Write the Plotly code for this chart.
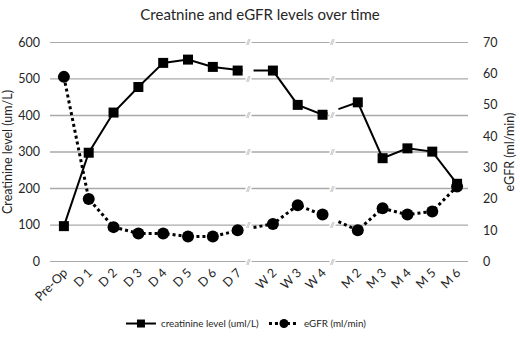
import plotly.graph_objects as go

categories = ["Pre-Op", "D 1", "D 2", "D 3", "D 4", "D 5", "D 6", "D 7",
              "W 2", "W 3", "W 4",
              "M 2", "M 3", "M 4", "M 5", "M 6"]
group_sizes = [8, 3, 5]
creatinine = [97, 298, 408, 478, 544, 553, 533, 523,
              523, 429, 402,
              436, 283, 310, 301, 213]
egfr = [59, 20, 11, 9, 9, 8, 8, 10,
        12, 18, 15,
        10, 17, 15, 16, 24]
left_ticks = [0, 100, 200, 300, 400, 500, 600]
right_ticks = [0, 10, 20, 30, 40, 50, 60, 70]

BREAK_OFF = 0.42
HALF_GAP = 0.22
PAD = 1.2  # small range padding so edge gridlines are not clipped

pos, breaks = [], []
x = 0.0
for gi, n in enumerate(group_sizes):
    for _ in range(n):
        pos.append(x)
        x += 1
    if gi < len(group_sizes) - 1:
        breaks.append(x - 1 + BREAK_OFF)
        x += BREAK_OFF


def broken_line(xv, yv):
    xs, ys = [], []
    for i in range(len(xv)):
        xs.append(xv[i]); ys.append(yv[i])
        if i < len(xv) - 1:
            for b in breaks:
                if xv[i] < b < xv[i + 1]:
                    for bx in (b - HALF_GAP, None, b + HALF_GAP):
                        if bx is None:
                            xs.append(None); ys.append(None)
                        else:
                            t = (bx - xv[i]) / (xv[i + 1] - xv[i])
                            xs.append(bx); ys.append(yv[i] + t * (yv[i + 1] - yv[i]))
    return xs, ys


x_lo, x_hi = -0.56, pos[-1] + 0.44

fig = go.Figure()

# horizontal gridlines (drawn first, below the data)
gx, gy = [], []
for v in left_ticks:
    gx += [x_lo, x_hi, None]
    gy += [v, v, None]
fig.add_trace(go.Scatter(x=gx, y=gy, mode="lines", line=dict(color="#a9a9a9", width=1.3),
                         showlegend=False, hoverinfo="skip"))

cx, cy = broken_line(pos, creatinine)
ex, ey = broken_line(pos, egfr)

fig.add_trace(go.Scatter(x=cx, y=cy, mode="lines", line=dict(color="black", width=2),
                         showlegend=False, hoverinfo="skip"))
fig.add_trace(go.Scatter(x=pos, y=creatinine, mode="markers",
                         marker=dict(symbol="square", size=10, color="black"),
                         showlegend=False))
fig.add_trace(go.Scatter(x=ex, y=ey, mode="lines", yaxis="y2",
                         line=dict(color="black", width=3, dash="dot"),
                         showlegend=False, hoverinfo="skip"))
fig.add_trace(go.Scatter(x=pos, y=egfr, mode="markers", yaxis="y2",
                         marker=dict(symbol="circle", size=12, color="black"),
                         showlegend=False))
fig.add_trace(go.Scatter(x=[None], y=[None], mode="lines+markers", name="creatinine level (uml/L)",
                         line=dict(color="black", width=2),
                         marker=dict(symbol="square", size=8, color="black")))
fig.add_trace(go.Scatter(x=[None], y=[None], mode="lines+markers", name="eGFR (ml/min)",
                         line=dict(color="black", width=3, dash="dot"),
                         marker=dict(symbol="circle", size=9, color="black")))

annotations = []
for b in breaks:
    for v in left_ticks:
        annotations.append(dict(x=b, y=v, xref="x", yref="y", text="//", showarrow=False,
                                font=dict(size=7, color="#8c8c8c"), bgcolor="white",
                                borderpad=0))

ratio = right_ticks[-1] / left_ticks[-1]
FONT = "Lato"
fig.update_layout(
    template="none",
    width=520, height=337,
    margin=dict(l=50, r=52, t=42, b=75),
    paper_bgcolor="white", plot_bgcolor="rgba(0,0,0,0)",
    font=dict(family=FONT, color="#262626", size=12),
    title=dict(text="Creatnine and eGFR levels over time", x=0.5, xanchor="center",
               y=0.955, yanchor="middle", font=dict(size=15, color="#262626")),
    xaxis=dict(range=[x_lo, x_hi], tickvals=pos, ticktext=categories,
               tickangle=-45, showgrid=False, zeroline=False, showline=False,
               ticks="", tickfont=dict(size=12.5)),
    yaxis=dict(range=[-PAD, left_ticks[-1] + PAD], tickvals=left_ticks, showgrid=False,
               zeroline=False, ticks="", ticklabelstandoff=9, tickfont=dict(size=12.5),
               title=dict(text="Creatinine level (um/L)", font=dict(size=12.5), standoff=6)),
    yaxis2=dict(range=[-PAD * ratio, right_ticks[-1] + PAD * ratio], tickvals=right_ticks,
                overlaying="y", side="right",
                showgrid=False, zeroline=False, ticks="", ticklabelstandoff=14,
                tickfont=dict(size=12.5),
                title=dict(text="eGFR (ml/min)", font=dict(size=12.5), standoff=8)),
    legend=dict(orientation="h", x=0.47, xanchor="center", y=0.04, yanchor="middle",
                yref="container", font=dict(size=9.8), itemwidth=30),
    annotations=annotations,
)

fig.write_html("out.html")
